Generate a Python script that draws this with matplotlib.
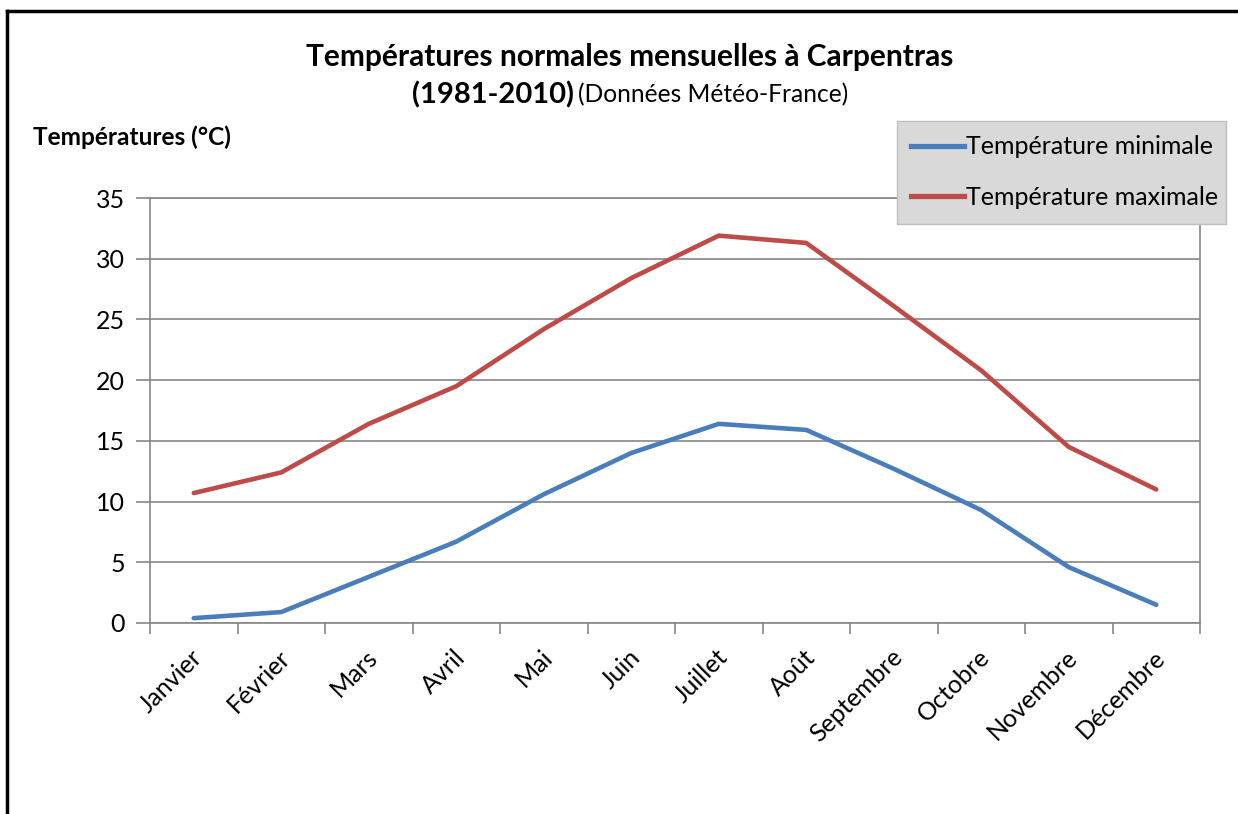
#
# temperatures_carpentras.py
#

import matplotlib
matplotlib.use('Agg')
import matplotlib.pyplot as plt
import matplotlib.transforms as mtransforms
from matplotlib.patches import Rectangle
from matplotlib.lines import Line2D

plt.rcParams['font.family'] = ['Lato', 'DejaVu Sans']

mois = ['Janvier', 'Février', 'Mars', 'Avril', 'Mai', 'Juin', 'Juillet',
        'Août', 'Septembre', 'Octobre', 'Novembre', 'Décembre']
t_min = [0.4, 0.9, 3.8, 6.7, 10.6, 14.0, 16.4, 15.9, 12.7, 9.3, 4.6, 1.5]
t_max = [10.7, 12.4, 16.4, 19.5, 24.2, 28.4, 31.9, 31.3, 26.1, 20.8, 14.5, 11.0]
y_ticks = [0, 5, 10, 15, 20, 25, 30, 35]

gris = '#868686'
bleu = '#4a7ebb'
rouge = '#be4b48'

fig = plt.figure(figsize=(12.38, 8.14), dpi=100)
ax = fig.add_axes([150 / 1238, 1 - 623 / 814, 1050 / 1238, 425 / 814])

x = list(range(len(mois)))
ax.plot(x, t_min, color=bleu, lw=3.3, solid_capstyle='round', label='Température minimale')
ax.plot(x, t_max, color=rouge, lw=3.3, solid_capstyle='round', label='Température maximale')

ax.set_xlim(-0.5, len(mois) - 0.5)
ax.set_ylim(0, 35)
ax.set_yticks(y_ticks)
ax.set_yticklabels([str(v) for v in y_ticks])
ax.yaxis.grid(True, color=gris, lw=1.2)
ax.set_axisbelow(True)

ax.set_xticks(x)
ax.set_xticklabels(mois, rotation=45, ha='right', va='center', rotation_mode='anchor')
ax.set_xticks([i - 0.5 for i in range(len(mois) + 1)], minor=True)
ax.tick_params(axis='x', which='major', length=0, pad=22, labelsize=18)
ax.tick_params(axis='x', which='minor', length=8, width=1.2, color=gris)
ax.tick_params(axis='y', length=10, width=1.2, color=gris, labelsize=18, pad=8)
decal = mtransforms.ScaledTranslation(5 / 100, 0, fig.dpi_scale_trans)
for lab in ax.get_xticklabels():
    lab.set_transform(lab.get_transform() + decal)

for s in ax.spines.values():
    s.set_color(gris)
    s.set_linewidth(1.2)

# titre
fig.text(630 / 1238, 1 - 57 / 814, 'Températures normales mensuelles à Carpentras',
         ha='center', va='center', fontsize=21.5, fontweight='bold')
fig.text(574 / 1238, 1 - 95 / 814, '(1981-2010)', ha='right', va='center',
         fontsize=21, fontweight='bold')
fig.text(578 / 1238, 1 - 95 / 814, '(Données Météo-France)', ha='left', va='center',
         fontsize=17.7)
fig.text(33 / 1238, 1 - 137 / 814, 'Températures (°C)', ha='left', va='center',
         fontsize=17.6, fontweight='bold')

# cadre de la légende
fig.patches.append(Rectangle((897 / 1238, 1 - 224 / 814), 329 / 1238, 103 / 814,
                             transform=fig.transFigure, facecolor='#d9d9d9',
                             edgecolor='#bfbfbf', lw=1, zorder=2))
handles = [Line2D([], [], color=bleu, lw=3.8), Line2D([], [], color=rouge, lw=3.8)]
leg = fig.legend(handles, ['Température minimale', 'Température maximale'],
                 loc='center left', bbox_to_anchor=(911 / 1238, 1 - 172 / 814),
                 frameon=False, fontsize=18, handlelength=2.1, handletextpad=0.12,
                 labelspacing=1.1, borderpad=0, borderaxespad=0)
leg.set_zorder(3)

# bordure haut / gauche
fig.add_artist(Line2D([7 / 1238, 7 / 1238], [0, 1 - 11 / 814], color='black', lw=2.5,
                      transform=fig.transFigure))
fig.add_artist(Line2D([7 / 1238, 1], [1 - 11 / 814, 1 - 11 / 814], color='black', lw=2.5,
                      transform=fig.transFigure))

fig.savefig('out.png', dpi=100)
